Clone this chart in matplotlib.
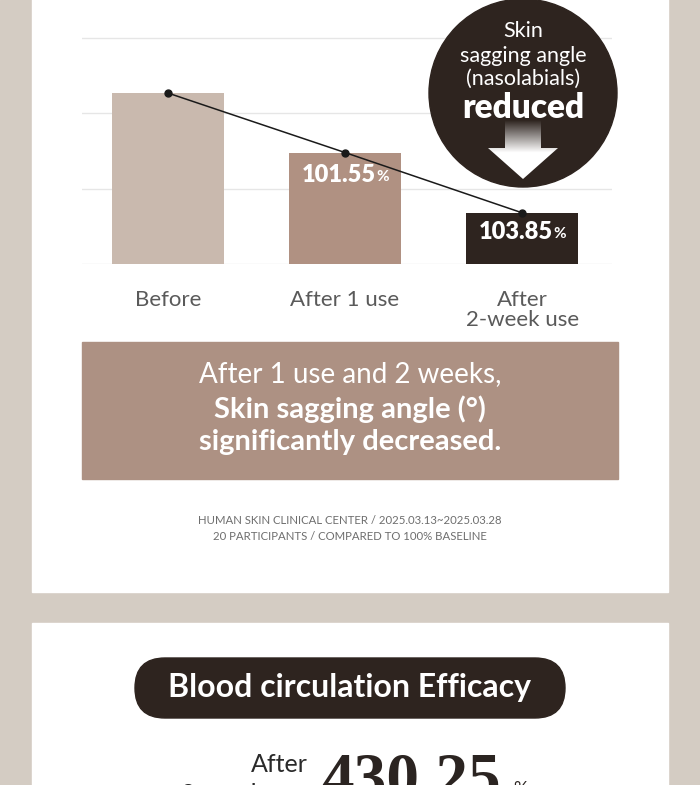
import numpy as np
import matplotlib
matplotlib.use('Agg')
import matplotlib.pyplot as plt
from matplotlib.patches import Rectangle, Circle, Polygon, FancyBboxPatch

plt.rcParams['font.family'] = ['Lato', 'DejaVu Sans']

# data
categories = ['Before', 'After 1 use', 'After\n2-week use']
bar_values = [2.27, 1.48, 0.68]          # height in gridline units
value_labels = [None, '101.55', '103.85']
grid_levels = [0, 1, 2, 3]

# colours
beige = '#d4ccc3'
dark = '#2e241f'
bar_colors = ['#c9b9ae', '#b09182', dark]
box_brown = '#ad9183'

W, H = 700, 785
fig = plt.figure(figsize=(W / 100, H / 100), dpi=100)

# background + white panels
bg = fig.add_axes([0, 0, 1, 1], zorder=0)
bg.set_xlim(0, W)
bg.set_ylim(H, 0)
bg.axis('off')
bg.add_patch(Rectangle((0, 0), W, H, color=beige))
bg.add_patch(Rectangle((32, -10), 636, 602, color='white'))
bg.add_patch(Rectangle((32, 623), 636, 200, color='white'))

# bar chart axes: baseline at y=264px, gridline step 75.3px
base_px, step_px = 264, 75.3
x0, x1 = 82, 612
ax = fig.add_axes([x0 / W, (H - base_px) / H, (x1 - x0) / W, base_px / H], zorder=1)
ax.set_facecolor('none')
x = np.arange(len(categories))
ax.set_xlim(-0.486, 2.508)
ax.set_ylim(0, base_px / step_px)
ax.set_yticks(grid_levels)
ax.yaxis.grid(True, color='#e6e6e6', lw=1)
ax.set_axisbelow(True)
for s in ax.spines.values():
    s.set_visible(False)
ax.tick_params(axis='y', left=False, labelleft=False)
ax.tick_params(axis='x', bottom=False, pad=15)
ax.set_xticks(x)
ax.set_xticklabels(categories, fontsize=16, color='#5a5a5a', fontweight='normal',
                   linespacing=1.05)

ax.bar(x, bar_values, width=0.633, color=bar_colors, zorder=2)
ax.plot(x, bar_values, color='#1a1a1a', lw=1.1, marker='o', ms=5, zorder=4)

offsets = [0, -22, -19]
for i, lab in enumerate(value_labels):
    if lab is None:
        continue
    ax.annotate(lab, (x[i], bar_values[i]), xytext=(22, offsets[i] * 0.72),
                textcoords='offset points', ha='right', va='center',
                color='white', fontsize=17, fontweight='heavy', zorder=5)
    ax.annotate('%', (x[i], bar_values[i]), xytext=(22.5, offsets[i] * 0.72 - 1.5),
                textcoords='offset points', ha='left', va='center',
                color='white', fontsize=11, fontweight='bold', zorder=5)

# overlay for badge, boxes and texts
ov = fig.add_axes([0, 0, 1, 1], zorder=3)
ov.set_xlim(0, W)
ov.set_ylim(H, 0)
ov.axis('off')
ov.patch.set_alpha(0)

cx, cy, r = 523, 93, 94
ov.add_patch(Circle((cx, cy), r, color=dark, zorder=1))
ov.text(cx, 31, 'Skin', color='white', fontsize=15.5, ha='center', va='center')
ov.text(cx, 56, 'sagging angle', color='white', fontsize=15.5, ha='center', va='center')
ov.text(cx, 79, '(nasolabials)', color='white', fontsize=15.5, ha='center', va='center')
ov.text(cx, 108, 'reduced', color='white', fontsize=24, fontweight='heavy',
        ha='center', va='center')

# gradient arrow
arrow_pts = [(505, 120), (541, 120), (541, 148), (558, 148), (523, 179),
             (488, 148), (505, 148)]
arrow = Polygon(arrow_pts, closed=True, facecolor='none', edgecolor='none')
ov.add_patch(arrow)
t = np.clip(np.linspace(0, 1, 100) / 0.55, 0, 1)
c0 = np.array(matplotlib.colors.to_rgb(dark))
grad = np.ones((100, 1, 4))
grad[:, 0, :3] = c0[None, :] * (1 - t[:, None]) + t[:, None]
im = ov.imshow(grad, extent=(488, 558, 179, 120), aspect='auto', zorder=2)
im.set_clip_path(arrow)
ov.set_xlim(0, W)
ov.set_ylim(H, 0)

# summary box
ov.add_patch(Rectangle((82, 342), 536, 137, color=box_brown, zorder=1))
ov.text(350, 374, 'After 1 use and 2 weeks,', color='white', fontsize=20,
        fontweight='normal', ha='center', va='center')
ov.text(350, 409, 'Skin sagging angle (°)', color='white', fontsize=21,
        fontweight='bold', ha='center', va='center')
ov.text(350, 442, 'significantly decreased.', color='white', fontsize=21,
        fontweight='bold', ha='center', va='center')

ov.text(350, 520, 'HUMAN SKIN CLINICAL CENTER / 2025.03.13~2025.03.28',
        color='#6e6e6e', fontsize=8.2, ha='center', va='center')
ov.text(350, 537, '20 PARTICIPANTS / COMPARED TO 100% BASELINE',
        color='#6e6e6e', fontsize=8.2, ha='center', va='center')

# second panel
ov.add_patch(FancyBboxPatch((135, 658), 430, 60,
                            boxstyle='round,pad=0,rounding_size=30',
                            color=dark, zorder=1))
ov.text(350, 687, 'Blood circulation Efficacy', color='white', fontsize=23,
        fontweight='bold', ha='center', va='center')

ov.text(308, 765, 'After', color='#2a2a2a', fontsize=18, ha='right', va='center')
ov.text(308, 795, '2-week use', color='#2a2a2a', fontsize=18, ha='right', va='center')
ov.text(321, 797, '430.25', color='#2b2421', fontsize=47, fontweight='bold',
        family=['Liberation Serif', 'DejaVu Serif'], ha='left', va='baseline')
ov.text(513, 794, '%', color='#2b2421', fontsize=13, ha='left', va='baseline')

fig.savefig('out.png', dpi=100)
